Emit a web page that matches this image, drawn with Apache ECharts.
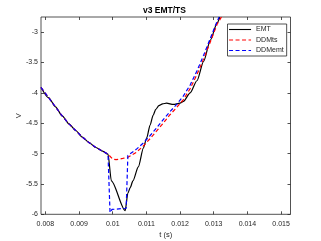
<!DOCTYPE html>
<html><head><meta charset="utf-8">
<script src="https://cdn.jsdelivr.net/npm/echarts@6/dist/echarts.min.js"></script>
<style>html,body{margin:0;padding:0;background:#fff}#c{width:321px;height:241px}</style>
</head><body><div id="c"></div>
<script>
// shared early part (all three series overlap)
const commonT = [0.00787, 0.0081, 0.0083, 0.0085, 0.0087, 0.0089, 0.0091, 0.0093, 0.0095, 0.0097, 0.00986];
const commonV = [-3.91, -4.08, -4.23, -4.38, -4.51, -4.62, -4.73, -4.82, -4.90, -4.96, -5.01];

const emtT = [0.00996, 0.01037, 0.01045, 0.01052, 0.0106, 0.01076, 0.01091, 0.01101, 0.01111, 0.0112, 0.01128, 0.01137, 0.01148, 0.0116, 0.0118, 0.0120, 0.0121, 0.0123, 0.0125, 0.0127, 0.0129, 0.0131, 0.01318];
const emtV = [-5.45, -5.94, -5.65, -5.56, -5.45, -5.22, -4.91, -4.74, -4.53, -4.37, -4.27, -4.21, -4.18, -4.17, -4.19, -4.17, -4.14, -4.00, -3.80, -3.48, -3.13, -2.85, -2.75];

const tsT = [0.0100, 0.0101, 0.0103, 0.01045, 0.0107, 0.0109, 0.0111, 0.0113, 0.0115, 0.0117, 0.0119, 0.0121, 0.0123, 0.0125, 0.0127, 0.0129, 0.0131, 0.01323];
const tsV = [-5.09, -5.10, -5.08, -5.06, -4.98, -4.88, -4.76, -4.63, -4.50, -4.36, -4.24, -4.11, -3.93, -3.70, -3.44, -3.16, -2.87, -2.75];

const emtDdmT = [0.00992, 0.00998, 0.0104, 0.01043, 0.01045, 0.0107, 0.0109, 0.0111, 0.0113, 0.0115, 0.0117, 0.0119, 0.0121, 0.0123, 0.0125, 0.0127, 0.0129, 0.0131, 0.01316];
const emtDdmV = [-5.97, -5.92, -5.90, -5.90, -5.03, -4.93, -4.83, -4.71, -4.58, -4.44, -4.31, -4.19, -4.05, -3.87, -3.64, -3.38, -3.10, -2.82, -2.75];

const xTicks = [0.008, 0.009, 0.01, 0.011, 0.012, 0.013, 0.014, 0.015];
const yTicks = [-6, -5.5, -5, -4.5, -4, -3.5, -3];
const seriesNames = ['EMT', 'DDMts', 'DDMemt'];

function pairs(t1, v1, t2, v2) {
  const out = [];
  for (let i = 0; i < t1.length; i++) out.push([t1[i], v1[i]]);
  for (let i = 0; i < t2.length; i++) out.push([t2[i], v2[i]]);
  return out;
}

const txt = '#262626';
const font = 'Liberation Sans, Arial, sans-serif';
const chart = echarts.init(document.getElementById('c'), null, {renderer: 'canvas'});
const baseX = {
  type: 'value', min: 0.00787, max: 0.01528, splitLine: {show: false},
  axisLine: {show: false},
  axisTick: {show: true, inside: true, length: 3, lineStyle: {color: txt, width: 0.8}, customValues: xTicks},
};
const baseY = {
  type: 'value', min: -6, max: -2.75, splitLine: {show: false},
  axisLine: {show: false},
  axisTick: {show: true, inside: true, length: 3, lineStyle: {color: txt, width: 0.8}, customValues: yTicks},
};
chart.setOption({
  animation: false,
  backgroundColor: '#fff',
  title: {text: 'v3 EMT/TS', left: 143, top: 6, padding: 0,
    textStyle: {fontSize: 8.5, fontWeight: 'bold', color: '#000', fontFamily: font}},
  grid: {left: 41, right: 30.5, top: 17, bottom: 26.7, show: true, borderColor: txt, borderWidth: 0.8,
    backgroundColor: '#fff', containLabel: false, outerBoundsMode: 'none'},
  legend: {
    orient: 'vertical', left: 227.5, top: 24, data: seriesNames,
    itemWidth: 22, itemHeight: 6, itemGap: 3.5, padding: [2, 3, 2, 1],
    backgroundColor: '#fff', borderColor: txt, borderWidth: 0.8,
    itemStyle: {color: 'rgba(0,0,0,0)', borderWidth: 0, opacity: 0},
    lineStyle: {width: 1.1},
    textStyle: {fontSize: 7, color: txt, fontFamily: font}
  },
  xAxis: [
    Object.assign({}, baseX, {position: 'bottom', name: 't (s)', nameLocation: 'middle', nameGap: 17, nameMoveOverlap: false,
      nameTextStyle: {fontSize: 7.5, color: txt, fontFamily: font},
      axisLabel: {show: true, fontSize: 7, color: txt, margin: 6, fontFamily: font, customValues: xTicks}}),
    Object.assign({}, baseX, {position: 'top', axisLabel: {show: false}})
  ],
  yAxis: [
    Object.assign({}, baseY, {position: 'left', name: 'V', nameLocation: 'middle', nameGap: 18, nameMoveOverlap: false,
      nameTextStyle: {fontSize: 7.5, color: txt, fontFamily: font},
      axisLabel: {show: true, fontSize: 7, color: txt, margin: 3, fontFamily: font, customValues: yTicks}}),
    Object.assign({}, baseY, {position: 'right', axisLabel: {show: false}})
  ],
  series: [
    {name: 'EMT', type: 'line', data: pairs(commonT, commonV, emtT, emtV), showSymbol: false, symbol: 'none',
      smooth: 0.25, smoothMonotone: 'x',
      lineStyle: {color: '#000', width: 1.2}, itemStyle: {color: '#000'}, z: 3},
    {name: 'DDMts', type: 'line', data: pairs(commonT, commonV, tsT, tsV), showSymbol: false, symbol: 'none',
      lineStyle: {color: '#ff0000', width: 1.2, type: [4, 2.5]}, itemStyle: {color: '#ff0000'}, z: 4},
    {name: 'DDMemt', type: 'line', data: pairs(commonT, commonV, emtDdmT, emtDdmV), showSymbol: false, symbol: 'none',
      lineStyle: {color: '#0000ff', width: 1.2, type: [4, 2.5]}, itemStyle: {color: '#0000ff'}, z: 5}
  ]
});
</script></body></html>
